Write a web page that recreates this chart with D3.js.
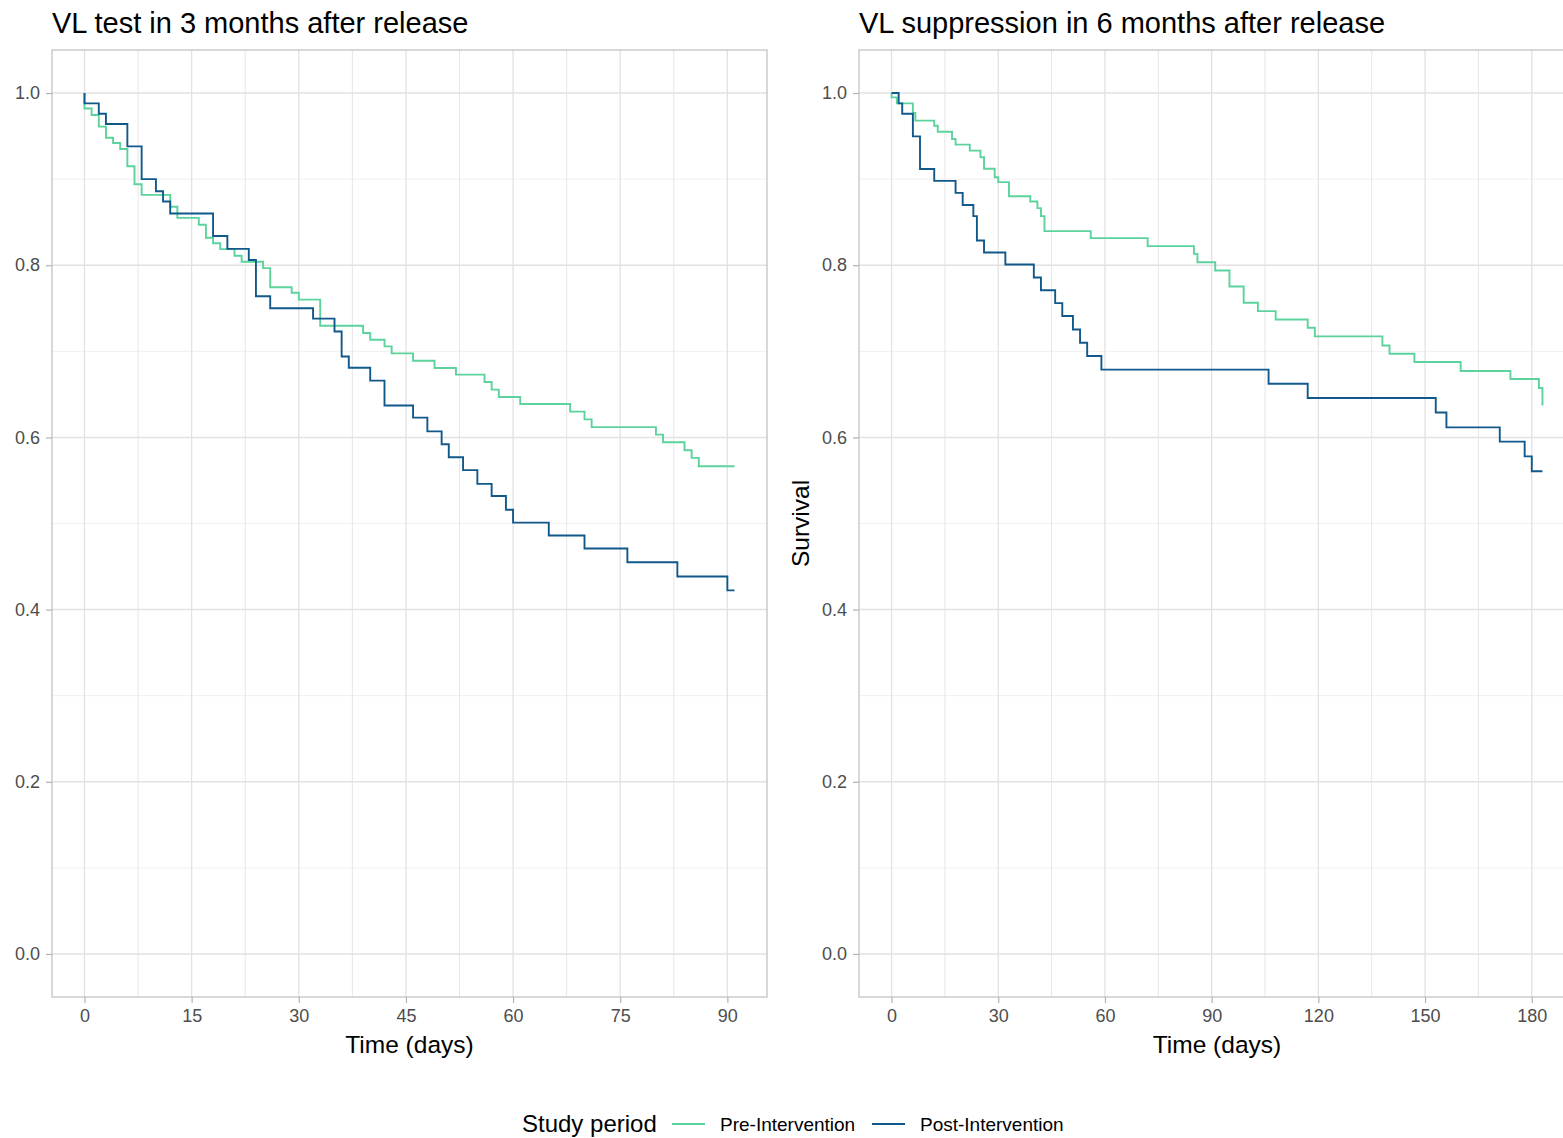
<!DOCTYPE html>
<html>
<head>
<meta charset="utf-8">
<script src="https://cdn.jsdelivr.net/npm/d3@7"></script>
<style>
  body { margin: 0; background: #fff; }
  text { font-family: "Liberation Sans", Arial, sans-serif; }
</style>
</head>
<body>
<div id="chart"></div>
<script>
//SVG size
var svgWidth = 1563;
var svgHeight = 1138;

//data: step times (days) and survival after each step
var groups = ['Pre-Intervention', 'Post-Intervention'];
var groupColors = ['#5cd39c', '#11598b'];

var testPreTime = [0, 0, 1, 2, 3, 4, 5, 6, 7, 8, 12, 13, 16, 17, 18, 19, 21, 22, 25, 26, 29, 30, 33, 39, 40, 42, 43, 46, 49, 52, 56, 57, 58, 61, 68, 70, 71, 80, 81, 84, 85, 86, 91];
var testPreSurv = [1, 0.982, 0.9745, 0.961, 0.948, 0.942, 0.935, 0.915, 0.894, 0.8817, 0.868, 0.855, 0.847, 0.832, 0.8256, 0.8187, 0.811, 0.804, 0.7966, 0.7745, 0.768, 0.760, 0.7297, 0.7212, 0.7135, 0.7057, 0.6976, 0.689, 0.6806, 0.6729, 0.6644, 0.6555, 0.647, 0.6388, 0.6299, 0.621, 0.612, 0.6032, 0.5943, 0.585, 0.5762, 0.5665, 0.5665];
var testPostTime = [0, 0, 2, 3, 6, 8, 10, 11, 12, 18, 20, 23, 24, 26, 32, 35, 36, 37, 40, 42, 46, 48, 50, 51, 53, 55, 57, 59, 60, 65, 70, 76, 83, 90, 91];
var testPostSurv = [1, 0.988, 0.976, 0.964, 0.938, 0.900, 0.886, 0.874, 0.860, 0.834, 0.819, 0.806, 0.764, 0.750, 0.738, 0.723, 0.694, 0.681, 0.666, 0.637, 0.623, 0.607, 0.592, 0.577, 0.562, 0.546, 0.532, 0.516, 0.501, 0.486, 0.471, 0.455, 0.4385, 0.4223, 0.4223];

var suppPreTime = [0, 0, 1.5, 6, 6.7, 12, 13, 17, 18, 22, 25, 26, 29, 30, 33, 39, 41, 42, 43, 56, 72, 85, 86, 91, 95, 99, 103, 108, 117, 119, 138, 140, 147, 160, 174, 182, 183];
var suppPreSurv = [1, 0.995, 0.988, 0.977, 0.968, 0.962, 0.955, 0.9467, 0.9401, 0.9331, 0.9254, 0.912, 0.9022, 0.8965, 0.8802, 0.874, 0.8663, 0.857, 0.8396, 0.8315, 0.8222, 0.8132, 0.8035, 0.7939, 0.7753, 0.7564, 0.7467, 0.737, 0.7274, 0.7173, 0.7068, 0.6972, 0.6876, 0.6771, 0.6678, 0.6574, 0.637];
var suppPostTime = [0, 2, 3, 6, 8, 12, 18, 20, 23, 24, 26, 32, 40, 42, 46, 48, 51, 53, 55, 59, 106, 117, 153, 156, 171, 178, 180, 183];
var suppPostSurv = [1, 0.988, 0.976, 0.9497, 0.9118, 0.898, 0.884, 0.870, 0.857, 0.8287, 0.8147, 0.8008, 0.7858, 0.771, 0.756, 0.741, 0.7254, 0.710, 0.6945, 0.6787, 0.6624, 0.6458, 0.629, 0.6117, 0.5951, 0.578, 0.5607, 0.5607];

var yTicks = [0, 0.2, 0.4, 0.6, 0.8, 1.0];
var yMinor = [0.1, 0.3, 0.5, 0.7, 0.9];

var panels = [
    {
        title: 'VL test in 3 months after release',
        left: 52, right: 767, maxT: 91,
        ticks: [0, 15, 30, 45, 60, 75, 90],
        minor: [7.5, 22.5, 37.5, 52.5, 67.5, 82.5],
        ylab: null,
        series: [[testPreTime, testPreSurv], [testPostTime, testPostSurv]]
    },
    {
        title: 'VL suppression in 6 months after release',
        left: 859, right: 1575, maxT: 183,
        ticks: [0, 30, 60, 90, 120, 150, 180],
        minor: [15, 45, 75, 105, 135, 165],
        ylab: 'Survival',
        series: [[suppPreTime, suppPreSurv], [suppPostTime, suppPostSurv]]
    }
];
var panelTop = 50, panelBottom = 997;

var svg = d3.select("#chart")
    .append("svg")
    .attr("width", svgWidth)
    .attr("height", svgHeight);

var yScale = d3.scaleLinear()
    .domain([-0.05, 1.05])
    .range([panelBottom, panelTop]);

panels.forEach(p => {
    //ggplot style 5% expansion on each side
    var pad = p.maxT * 0.05;
    var xScale = d3.scaleLinear()
        .domain([-pad, p.maxT + pad])
        .range([p.left, p.right]);

    var g = svg.append("g");

    //grid lines
    g.selectAll(".hminor").data(yMinor).enter().append("line")
        .attr("x1", p.left).attr("x2", p.right)
        .attr("y1", d => yScale(d)).attr("y2", d => yScale(d))
        .attr("stroke", "#f0f0f0").attr("stroke-width", 1);
    g.selectAll(".vminor").data(p.minor).enter().append("line")
        .attr("y1", panelTop).attr("y2", panelBottom)
        .attr("x1", d => xScale(d)).attr("x2", d => xScale(d))
        .attr("stroke", "#e6e6e6").attr("stroke-width", 1);
    g.selectAll(".hmajor").data(yTicks).enter().append("line")
        .attr("x1", p.left).attr("x2", p.right)
        .attr("y1", d => yScale(d)).attr("y2", d => yScale(d))
        .attr("stroke", "#e2e2e2").attr("stroke-width", 1.5);
    g.selectAll(".vmajor").data(p.ticks).enter().append("line")
        .attr("y1", panelTop).attr("y2", panelBottom)
        .attr("x1", d => xScale(d)).attr("x2", d => xScale(d))
        .attr("stroke", "#e2e2e2").attr("stroke-width", 1.3);

    //KM step curves
    var line = d3.line()
        .x(d => xScale(d[0]))
        .y(d => yScale(d[1]))
        .curve(d3.curveStepAfter);
    p.series.forEach((s, i) => {
        var pts = s[0].map((t, j) => [t, s[1][j]]);
        g.append("path")
            .datum(pts)
            .attr("d", line)
            .attr("fill", "none")
            .attr("stroke", groupColors[i])
            .attr("stroke-width", 1.9);
    });

    //panel border
    g.append("rect")
        .attr("x", p.left).attr("y", panelTop)
        .attr("width", p.right - p.left).attr("height", panelBottom - panelTop)
        .attr("fill", "none")
        .attr("stroke", "#c4c4c4")
        .attr("stroke-width", 1.3);

    //axes
    var bottomAxis = d3.axisBottom(xScale).tickValues(p.ticks).tickSize(6).tickPadding(6);
    var leftAxis = d3.axisLeft(yScale).tickValues(yTicks).tickSize(6).tickPadding(6).tickFormat(d3.format(".1f"));
    var xa = g.append("g").attr("transform", `translate(0, ${panelBottom})`).call(bottomAxis);
    var ya = g.append("g").attr("transform", `translate(${p.left}, 0)`).call(leftAxis);
    [xa, ya].forEach(a => {
        a.select(".domain").remove();
        a.selectAll(".tick line").attr("stroke", "#b3b3b3").attr("stroke-width", 1.2);
        a.selectAll(".tick text")
            .attr("fill", "#4d4d4d")
            .style("font-size", "18px")
            .style("font-family", "'Liberation Sans', Arial, sans-serif");
    });

    //titles
    g.append("text")
        .text(p.title)
        .attr("x", p.left)
        .attr("y", 33)
        .style("font-size", "29px")
        .attr("fill", "#000");
    g.append("text")
        .text("Time (days)")
        .attr("x", (p.left + p.right) / 2)
        .attr("y", 1053)
        .attr("text-anchor", "middle")
        .style("font-size", "24.5px");
    if (p.ylab) {
        g.append("text")
            .text(p.ylab)
            .attr("text-anchor", "middle")
            .attr("transform", `translate(${p.left - 50}, ${(panelTop + panelBottom) / 2}) rotate(-90)`)
            .style("font-size", "24.5px");
    }
});

//legend
var legend = svg.append("g");
legend.append("text")
    .text("Study period")
    .attr("x", 522)
    .attr("y", 1132)
    .style("font-size", "24px");
var keyX = [672, 872];
groups.forEach((name, i) => {
    legend.append("line")
        .attr("x1", keyX[i]).attr("x2", keyX[i] + 33)
        .attr("y1", 1124).attr("y2", 1124)
        .attr("stroke", groupColors[i])
        .attr("stroke-width", 2.2);
    legend.append("text")
        .text(name)
        .attr("x", keyX[i] + 48)
        .attr("y", 1131)
        .style("font-size", "19px");
});
</script>
</body>
</html>
